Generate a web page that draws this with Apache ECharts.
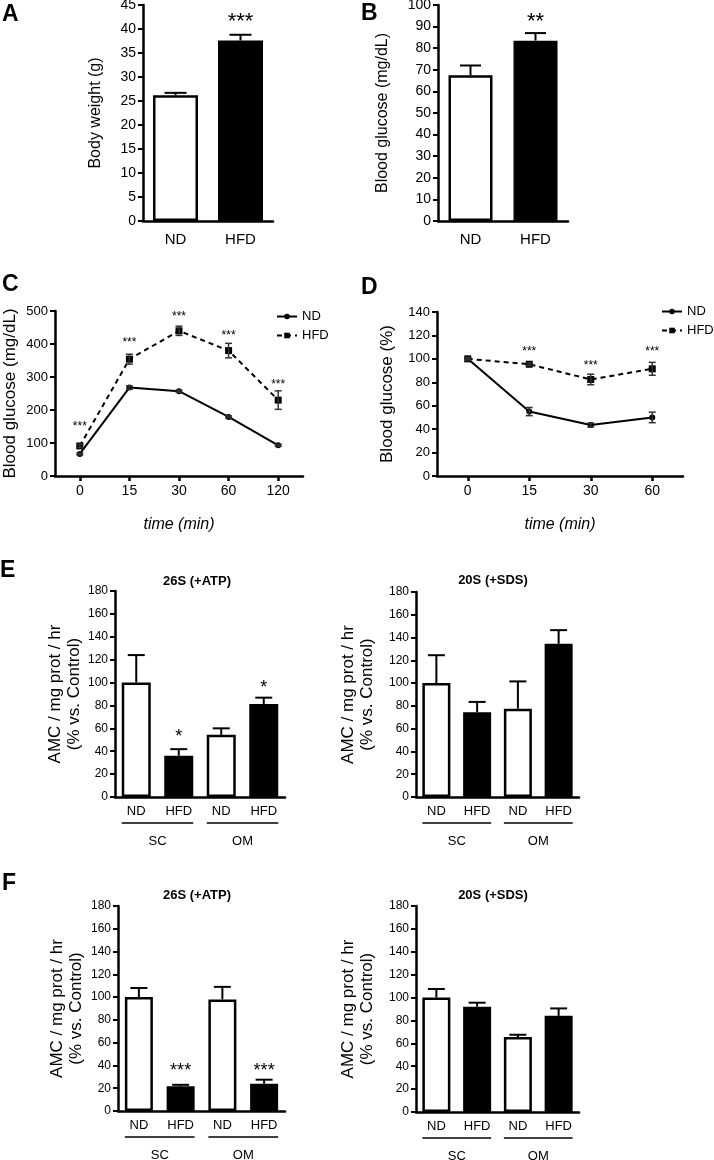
<!DOCTYPE html>
<html lang="en">
<head>
<meta charset="UTF-8">
<title>Obesity and adipose proteasome activity</title>
<style>
    body { margin: 0; background: #fff; }
    #fig { width: 714px; height: 1160px; }
</style>
</head>
<body>
<div id="fig"></div>
<script src="https://cdn.jsdelivr.net/npm/echarts@6/dist/echarts.min.js"></script>
<script>
    const FONT = '"Liberation Sans", Arial, Helvetica, sans-serif';

    // A - body weight, B - fasting glucose
    const dietGroups = ['ND', 'HFD'];
    const bodyWeight = [26.2, 37.6];
    const bodyWeightErr = [0.5, 1.2];
    const bodyWeightStars = ['', '***'];
    const bodyWeightStarAt = [null, 42.5];
    const fastGlucose = [67.5, 83.5];
    const fastGlucoseErr = [4.5, 3.5];
    const fastGlucoseStars = ['', '**'];
    const fastGlucoseStarAt = [null, 94.4];

    // C - glucose tolerance
    const gttTimes = ['0', '15', '30', '60', '120'];
    const gttND = [67, 268, 257, 179, 93];
    const gttNDErr = [3, 5, 3, 3, 3];
    const gttHFD = [91, 354, 440, 380, 230];
    const gttHFDErr = [5, 15, 14, 22, 28];
    const gttStars = ['***', '***', '***', '***', '***'];
    const gttStarAt = [157, 412, 490, 432, 286];

    // D - insulin tolerance
    const ittTimes = ['0', '15', '30', '60'];
    const ittND = [100, 55, 43.5, 50];
    const ittNDErr = [1, 3.5, 1.7, 4.5];
    const ittHFD = [100, 95.4, 82.4, 91.5];
    const ittHFDErr = [1, 1, 4.5, 5.5];
    const ittStars = ['', '***', '***', '***'];
    const ittStarAt = [null, 108, 96, 108];

    // E / F - proteasome activity by depot
    const depotDiet = ['ND', 'HFD', 'ND', 'HFD'];
    const depots = ['SC', 'OM'];
    const e26 = [100, 36, 54.3, 81.3];
    const e26Err = [24, 5.8, 5.7, 5.5];
    const e26Stars = ['', '*', '', '*'];
    const e26StarAt = [null, 56, null, 99];
    const e20 = [100, 74.5, 77.5, 134.5];
    const e20Err = [24.5, 9, 24, 12];
    const f26 = [100, 21.7, 98, 24];
    const f26Err = [8, 1.3, 11, 3.5];
    const f26Stars = ['', '***', '', '***'];
    const f26StarAt = [null, 38.6, null, 38.6];
    const f20 = [100, 92, 65.5, 84];
    const f20Err = [7.5, 3.5, 2, 6.5];

    const chart = echarts.init(document.getElementById('fig'));

    const grids = [
        { left: 143, top: 5, width: 130, height: 216 },   // A
        { left: 438, top: 5, width: 130, height: 216 },   // B
        { left: 55, top: 311, width: 248, height: 165 },  // C
        { left: 437, top: 312, width: 246, height: 164 }, // D
        { left: 115, top: 591, width: 170, height: 206 }, // E 26S
        { left: 416, top: 592, width: 163, height: 205 }, // E 20S
        { left: 118, top: 906, width: 167, height: 205 }, // F 26S
        { left: 416, top: 906, width: 163, height: 206 }  // F 20S
    ].map(g => Object.assign({ outerBoundsMode: 'none' }, g));

    function catAxis(gi, cats, fs, margin, ticks, name) {
        return {
            type: 'category', gridIndex: gi, data: cats, boundaryGap: true,
            axisLine: { lineStyle: { color: '#000', width: 2.5 } },
            axisTick: ticks
                ? { show: true, alignWithLabel: true, length: 5, lineStyle: { color: '#000', width: 2.5 } }
                : { show: false },
            axisLabel: { color: '#000', fontSize: fs, fontFamily: FONT, margin: margin },
            name: name || '', nameLocation: 'middle', nameGap: 41,
            nameTextStyle: { color: '#000', fontSize: 16, fontStyle: 'italic', fontFamily: FONT }
        };
    }

    function valAxis(gi, max, interval, fs, name, gap, nfs) {
        return {
            type: 'value', gridIndex: gi, min: 0, max: max, interval: interval,
            axisLine: { show: true, lineStyle: { color: '#000', width: 2.5 } },
            axisTick: { show: true, length: 5, lineStyle: { color: '#000', width: 2 } },
            splitLine: { show: false },
            axisLabel: { color: '#000', fontSize: fs, fontFamily: FONT, margin: 7 },
            name: name, nameLocation: 'middle', nameGap: gap, nameRotate: 90,
            nameTextStyle: { color: '#000', fontSize: nfs, fontFamily: FONT, lineHeight: 19 }
        };
    }

    function bars(gi, means, diets, width) {
        return {
            type: 'bar', xAxisIndex: gi, yAxisIndex: gi, barWidth: width, z: 2, silent: true,
            itemStyle: { borderColor: '#000', borderWidth: 2.5 },
            data: means.map((v, i) => ({ value: v, itemStyle: { color: diets[i] === 'HFD' ? '#000' : '#fff' } }))
        };
    }

    function errorBars(gi, means, errs, both, cap, color, lw) {
        return {
            type: 'custom', xAxisIndex: gi, yAxisIndex: gi, z: both ? 4 : 1, silent: true,
            data: means.map((m, i) => [i, m, errs[i]]),
            renderItem: (params, api) => {
                const i = api.value(0), m = api.value(1), e = api.value(2);
                const hi = api.coord([i, m + e]);
                const lo = api.coord([i, both ? m - e : m]);
                const w = cap / 2;
                const st = { stroke: color, lineWidth: lw };
                const kids = [
                    { type: 'line', shape: { x1: hi[0], y1: hi[1], x2: lo[0], y2: lo[1] }, style: st },
                    { type: 'line', shape: { x1: hi[0] - w, y1: hi[1], x2: hi[0] + w, y2: hi[1] }, style: st }
                ];
                if (both) {
                    kids.push({ type: 'line', shape: { x1: lo[0] - w, y1: lo[1], x2: lo[0] + w, y2: lo[1] }, style: st });
                }
                return { type: 'group', children: kids };
            }
        };
    }

    function starMarks(gi, labels, at, size) {
        return {
            type: 'custom', xAxisIndex: gi, yAxisIndex: gi, z: 5, silent: true,
            data: at.map((v, i) => [i, v]).filter(d => d[1] != null),
            renderItem: (params, api) => {
                const p = api.coord([api.value(0), api.value(1)]);
                return {
                    type: 'text', x: p[0], y: p[1] + size * 0.22,
                    style: {
                        text: labels[api.value(0)], fontSize: size, fontFamily: FONT,
                        fill: '#000', align: 'center', verticalAlign: 'middle'
                    }
                };
            }
        };
    }

    function lineSeries(gi, name, values, dashed) {
        return {
            name: name, type: 'line', xAxisIndex: gi, yAxisIndex: gi, data: values, z: 3,
            symbol: dashed ? 'rect' : 'circle', symbolSize: dashed ? 7 : 6,
            itemStyle: { color: '#000' },
            lineStyle: { color: '#000', width: 2, type: dashed ? [5, 4] : 'solid' }
        };
    }

    const yName2 = 'AMC / mg prot / hr\n(% vs. Control)';

    const legendBase = {
        data: ['ND', 'HFD'], orient: 'vertical', itemWidth: 20, itemHeight: 7, itemGap: 6,
        selectedMode: false, textStyle: { color: '#000', fontSize: 13, fontFamily: FONT }
    };

    chart.setOption({
        animation: false,
        backgroundColor: '#fff',
        grid: grids,
        legend: [
            Object.assign({ left: 271, top: 305 }, legendBase),
            Object.assign({ left: 656, top: 300 }, legendBase)
        ],
        xAxis: [
            catAxis(0, dietGroups, 15, 11, false),
            catAxis(1, dietGroups, 15, 11, false),
            catAxis(2, gttTimes, 14, 8, true, 'time (min)'),
            catAxis(3, ittTimes, 14, 8, true, 'time (min)'),
            catAxis(4, depotDiet, 13, 8, false),
            catAxis(5, depotDiet, 13, 8, false),
            catAxis(6, depotDiet, 13, 8, false),
            catAxis(7, depotDiet, 13, 8, false)
        ],
        yAxis: [
            valAxis(0, 45, 5, 14, 'Body weight (g)', 38, 16),
            valAxis(1, 100, 10, 14, 'Blood glucose (mg/dL)', 46, 16),
            valAxis(2, 500, 100, 13, 'Blood glucose (mg/dL)', 35, 17),
            valAxis(3, 140, 20, 13, 'Blood glucose (%)', 40, 17),
            valAxis(4, 180, 20, 12, yName2, 30, 17),
            valAxis(5, 180, 20, 12, yName2, 39, 17),
            valAxis(6, 180, 20, 12, yName2, 32, 17),
            valAxis(7, 180, 20, 12, yName2, 39, 17)
        ],
        series: [
            bars(0, bodyWeight, dietGroups, 45),
            errorBars(0, bodyWeight, bodyWeightErr, false, 22, '#000', 2),
            starMarks(0, bodyWeightStars, bodyWeightStarAt, 22),
            bars(1, fastGlucose, dietGroups, 44),
            errorBars(1, fastGlucose, fastGlucoseErr, false, 21, '#000', 2),
            starMarks(1, fastGlucoseStars, fastGlucoseStarAt, 22),

            lineSeries(2, 'ND', gttND, false),
            lineSeries(2, 'HFD', gttHFD, true),
            errorBars(2, gttND, gttNDErr, true, 7, '#333', 1.5),
            errorBars(2, gttHFD, gttHFDErr, true, 7, '#333', 1.5),
            starMarks(2, gttStars, gttStarAt, 12),

            lineSeries(3, 'ND', ittND, false),
            lineSeries(3, 'HFD', ittHFD, true),
            errorBars(3, ittND, ittNDErr, true, 7, '#333', 1.5),
            errorBars(3, ittHFD, ittHFDErr, true, 7, '#333', 1.5),
            starMarks(3, ittStars, ittStarAt, 12),

            bars(4, e26, depotDiet, 29),
            errorBars(4, e26, e26Err, false, 17, '#000', 2),
            starMarks(4, e26Stars, e26StarAt, 18),
            bars(5, e20, depotDiet, 28),
            errorBars(5, e20, e20Err, false, 17, '#000', 2),
            bars(6, f26, depotDiet, 28),
            errorBars(6, f26, f26Err, false, 17, '#000', 2),
            starMarks(6, f26Stars, f26StarAt, 18),
            bars(7, f20, depotDiet, 28),
            errorBars(7, f20, f20Err, false, 17, '#000', 2)
        ]
    });

    // panel letters, sub-titles, depot brackets
    const graphic = [];
    [['A', 2, 3], ['B', 361, 2], ['C', 2, 273], ['D', 361, 276], ['E', 0, 559], ['F', 2, 872]].forEach(l => {
        graphic.push({
            type: 'text', x: l[1], y: l[2],
            style: { text: l[0], fontSize: 23, fontWeight: 'bold', fontFamily: FONT, fill: '#000', verticalAlign: 'top' }
        });
    });
    [['26S (+ATP)', 197, 581], ['20S (+SDS)', 493, 580], ['26S (+ATP)', 197, 895], ['20S (+SDS)', 493, 895]].forEach(t => {
        graphic.push({
            type: 'text', x: t[1], y: t[2],
            style: { text: t[0], fontSize: 13, fontWeight: 'bold', fontFamily: FONT, fill: '#000', align: 'center', verticalAlign: 'middle' }
        });
    });
    [[4, 29], [5, 28], [6, 28], [7, 28]].forEach(([gi, bw]) => {
        const axisY = grids[gi].top + grids[gi].height;
        depots.forEach((name, k) => {
            const x1 = chart.convertToPixel({ xAxisIndex: gi }, 2 * k) - bw / 2;
            const x2 = chart.convertToPixel({ xAxisIndex: gi }, 2 * k + 1) + bw / 2;
            graphic.push({
                type: 'line', shape: { x1: x1, y1: axisY + 26, x2: x2, y2: axisY + 26 },
                style: { stroke: '#000', lineWidth: 1.5 }
            });
            graphic.push({
                type: 'text', x: (x1 + x2) / 2, y: axisY + 44,
                style: { text: name, fontSize: 13, fontFamily: FONT, fill: '#000', align: 'center', verticalAlign: 'middle' }
            });
        });
    });
    chart.setOption({ graphic: graphic });
</script>
</body>
</html>
